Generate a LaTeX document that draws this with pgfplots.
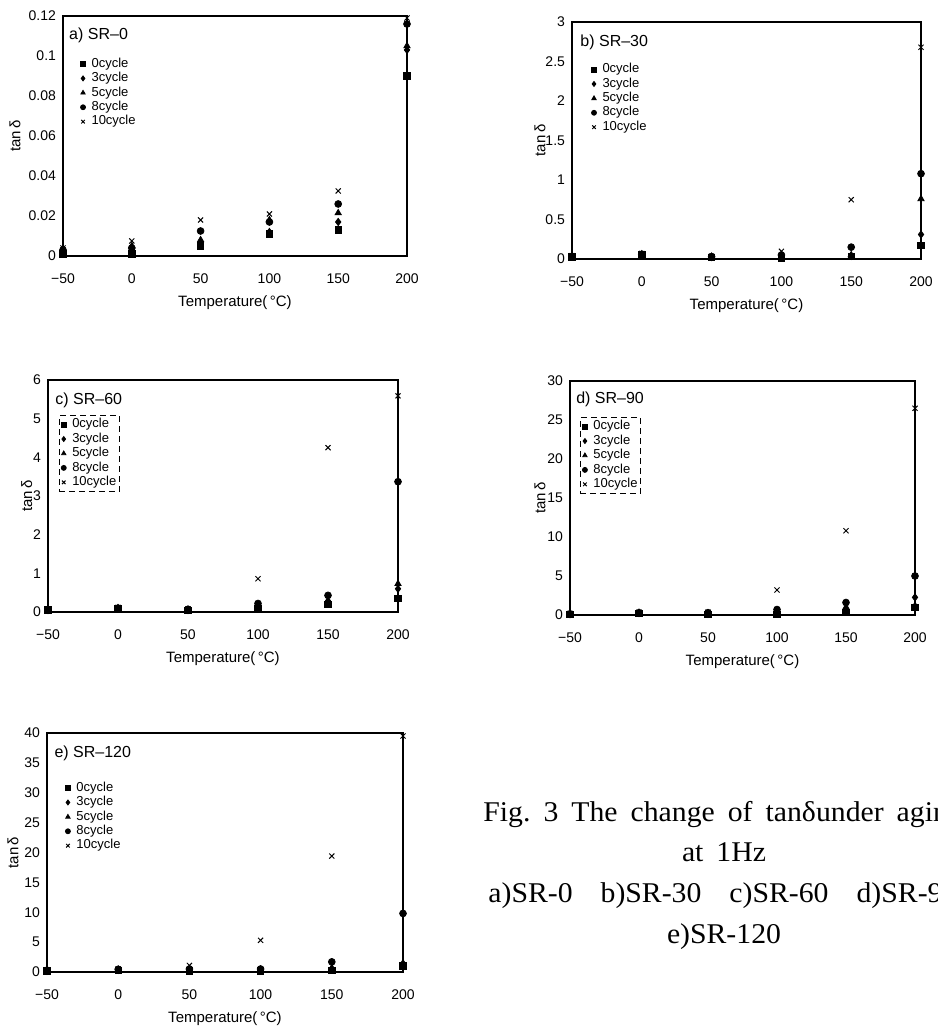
\documentclass[border=0pt]{standalone}
\usepackage{fontspec}
\setmainfont{Liberation Sans}
\newfontfamily\capfont[FakeStretch=1.04]{Liberation Serif}
\usepackage{pgfplots}
\pgfplotsset{compat=1.18}
\pgfplotsset{
  panel/.style={
    scale only axis, clip=false,
    xmin=-50, xmax=200,
    xtick={-50,0,50,100,150,200},
    xticklabels={−50,0,50,100,150,200},
    major tick length=0pt,
    axis line style={line width=0.7pt},
    tick label style={font=\fontsize{7}{8}\selectfont},
    label style={font=\fontsize{7.5}{8}\selectfont},
    xlabel={Temperature(\,°C)},
    ylabel={tan\,δ},
    xlabel style={at={(axis description cs:0.5,0)}, anchor=center, yshift=-23.5pt},
    xticklabel shift=5.5pt,
    legend cell align=left,
    legend style={anchor=north west, draw=none, fill=none,
      font=\fontsize{6.5}{7}\selectfont, inner sep=1pt,
      nodes={inner sep=0.5pt}, row sep=0pt,
      /tikz/every odd column/.append style={column sep=2.5pt}},
    legend image code/.code={\draw[##1, mark size=1.25pt] plot coordinates {(0pt,0pt)};},
  },
  s0/.style={only marks, black, mark=square*, mark size=1.6pt},
  s3/.style={only marks, black, mark=diamond*, mark size=1.8pt},
  s5/.style={only marks, black, mark=triangle*, mark size=1.8pt},
  s8/.style={only marks, black, mark=*, mark size=1.7pt},
  s10/.style={only marks, black, mark=x, mark size=1.8pt, mark options={line width=0.5pt}},
}
\begin{document}
\begin{tikzpicture}
\clip (0,0) rectangle (468.5pt,513pt);

% ---------- a) SR-0 ----------
\begin{axis}[panel, at={(31.5pt,385pt)}, anchor=south west,
  width=172pt, height=120pt, ymin=0, ymax=0.12,
  ytick={0,0.02,0.04,0.06,0.08,0.1,0.12},
  yticklabels={0,0.02,0.04,0.06,0.08,0.1,0.12},
  ylabel style={at={(axis description cs:-0.1395,0.5)}, anchor=center},
  legend style={at={(axis description cs:0.044,0.84)}}]
\addplot[s0] coordinates {(-50,0.001) (0,0.001) (50,0.005) (100,0.011) (150,0.013) (200,0.090)};
\addplot[s3] coordinates {(-50,0.002) (0,0.003) (50,0.006) (100,0.012) (150,0.017) (200,0.103)};
\addplot[s5] coordinates {(-50,0.003) (0,0.005) (50,0.008) (100,0.018) (150,0.0215) (200,0.105)};
\addplot[s8] coordinates {(-50,0.003) (0,0.004) (50,0.0125) (100,0.017) (150,0.026) (200,0.116)};
\addplot[s10] coordinates {(-50,0.004) (0,0.0075) (50,0.018) (100,0.021) (150,0.0325) (200,0.119)};
\legend{0cycle,3cycle,5cycle,8cycle,10cycle}
\node[anchor=west, font=\fontsize{8}{9}\selectfont, inner sep=0pt] at (rel axis cs:0.017,0.92) {a) SR–0};
\end{axis}

% ---------- b) SR-30 ----------
\begin{axis}[panel, at={(286pt,383.5pt)}, anchor=south west,
  width=174.5pt, height=118.5pt, ymin=0, ymax=3,
  ytick={0,0.5,1,1.5,2,2.5,3},
  yticklabels={0,0.5,1,1.5,2,2.5,3},
  ylabel style={at={(axis description cs:-0.092,0.5)}, anchor=center},
  legend style={at={(axis description cs:0.049,0.84)}}]
\addplot[s0] coordinates {(-50,0.025) (0,0.05) (50,0.02) (100,0.01) (150,0.035) (200,0.17)};
\addplot[s3] coordinates {(-50,0.03) (0,0.055) (50,0.025) (100,0.02) (150,0.04) (200,0.31)};
\addplot[s5] coordinates {(-50,0.03) (0,0.06) (50,0.03) (100,0.03) (150,0.05) (200,0.76)};
\addplot[s8] coordinates {(-50,0.035) (0,0.06) (50,0.03) (100,0.05) (150,0.15) (200,1.08)};
\addplot[s10] coordinates {(-50,0.04) (0,0.07) (50,0.035) (100,0.097) (150,0.75) (200,2.68)};
\legend{0cycle,3cycle,5cycle,8cycle,10cycle}
\node[anchor=west, font=\fontsize{8}{9}\selectfont, inner sep=0pt] at (rel axis cs:0.023,0.916) {b) SR–30};
\end{axis}

% ---------- c) SR-60 ----------
\begin{axis}[panel, at={(24pt,207pt)}, anchor=south west,
  width=175pt, height=116pt, ymin=0, ymax=6,
  ytick={0,1,2,3,4,5,6},
  yticklabels={0,1,2,3,4,5,6},
  ylabel style={at={(axis description cs:-0.061,0.5)}, anchor=center},
  legend style={at={(axis description cs:0.031,0.849)}, draw=black, densely dashed, line width=0.4pt}]
\addplot[s0] coordinates {(-50,0.05) (0,0.08) (50,0.04) (100,0.08) (150,0.2) (200,0.35)};
\addplot[s3] coordinates {(-50,0.05) (0,0.09) (50,0.05) (100,0.12) (150,0.28) (200,0.6)};
\addplot[s5] coordinates {(-50,0.06) (0,0.1) (50,0.06) (100,0.15) (150,0.3) (200,0.73)};
\addplot[s8] coordinates {(-50,0.06) (0,0.1) (50,0.07) (100,0.22) (150,0.43) (200,3.37)};
\addplot[s10] coordinates {(-50,0.07) (0,0.12) (50,0.08) (100,0.86) (150,4.25) (200,5.59)};
\legend{0cycle,3cycle,5cycle,8cycle,10cycle}
\node[anchor=west, font=\fontsize{8}{9}\selectfont, inner sep=0pt] at (rel axis cs:0.02,0.914) {c) SR–60};
\end{axis}

% ---------- d) SR-90 ----------
\begin{axis}[panel, at={(285pt,205.5pt)}, anchor=south west,
  width=172.5pt, height=117pt, ymin=0, ymax=30,
  ytick={0,5,10,15,20,25,30},
  yticklabels={0,5,10,15,20,25,30},
  ylabel style={at={(axis description cs:-0.087,0.5)}, anchor=center},
  legend style={at={(axis description cs:0.029,0.846)}, draw=black, densely dashed, line width=0.4pt}]
\addplot[s0] coordinates {(-50,0.1) (0,0.2) (50,0.1) (100,0.1) (150,0.3) (200,1.0)};
\addplot[s3] coordinates {(-50,0.1) (0,0.25) (50,0.15) (100,0.2) (150,0.6) (200,2.26)};
\addplot[s5] coordinates {(-50,0.12) (0,0.3) (50,0.2) (100,0.4) (150,1.0) (200,1.2)};
\addplot[s8] coordinates {(-50,0.15) (0,0.3) (50,0.3) (100,0.7) (150,1.6) (200,5.0)};
\addplot[s10] coordinates {(-50,0.2) (0,0.35) (50,0.35) (100,3.2) (150,10.8) (200,26.5)};
\legend{0cycle,3cycle,5cycle,8cycle,10cycle}
\node[anchor=west, font=\fontsize{8}{9}\selectfont, inner sep=0pt] at (rel axis cs:0.017,0.923) {d) SR–90};
\end{axis}

% ---------- e) SR-120 ----------
\begin{axis}[panel, at={(23.5pt,27pt)}, anchor=south west,
  width=178pt, height=119.5pt, ymin=0, ymax=40,
  ytick={0,5,10,15,20,25,30,35,40},
  yticklabels={0,5,10,15,20,25,30,35,40},
  ylabel style={at={(axis description cs:-0.0955,0.5)}, anchor=center},
  legend style={at={(axis description cs:0.045,0.81)}}]
\addplot[s0] coordinates {(-50,0.2) (0,0.3) (50,0.2) (100,0.2) (150,0.3) (200,1.0)};
\addplot[s3] coordinates {(-50,0.2) (0,0.35) (50,0.3) (100,0.3) (150,0.5) (200,1.2)};
\addplot[s5] coordinates {(-50,0.25) (0,0.4) (50,0.4) (100,0.4) (150,0.7) (200,1.5)};
\addplot[s8] coordinates {(-50,0.3) (0,0.45) (50,0.5) (100,0.5) (150,1.7) (200,9.8)};
\addplot[s10] coordinates {(-50,0.3) (0,0.5) (50,1.1) (100,5.3) (150,19.4) (200,39.5)};
\legend{0cycle,3cycle,5cycle,8cycle,10cycle}
\node[anchor=west, font=\fontsize{8}{9}\selectfont, inner sep=0pt] at (rel axis cs:0.02,0.916) {e) SR–120};
\end{axis}

% ---------- caption ----------
\begin{scope}[every node/.style={inner sep=0pt, font=\capfont\fontsize{14.3}{16}\selectfont}]
\node[anchor=base west] at (241.5pt,102pt) {Fig.\hspace{6.5pt}3\hspace{6.5pt}The\hspace{6.5pt}change\hspace{6.5pt}of\hspace{6.5pt}tanδunder\hspace{6.5pt}aging};
\node[anchor=base] at (362pt,82pt) {at\hspace{6.5pt}1Hz};
\node[anchor=base west] at (244pt,61.5pt) {a)SR-0\hspace{14pt}b)SR-30\hspace{14pt}c)SR-60\hspace{14pt}d)SR-90};
\node[anchor=base] at (362pt,41pt) {e)SR-120};
\end{scope}
\end{tikzpicture}
\end{document}
